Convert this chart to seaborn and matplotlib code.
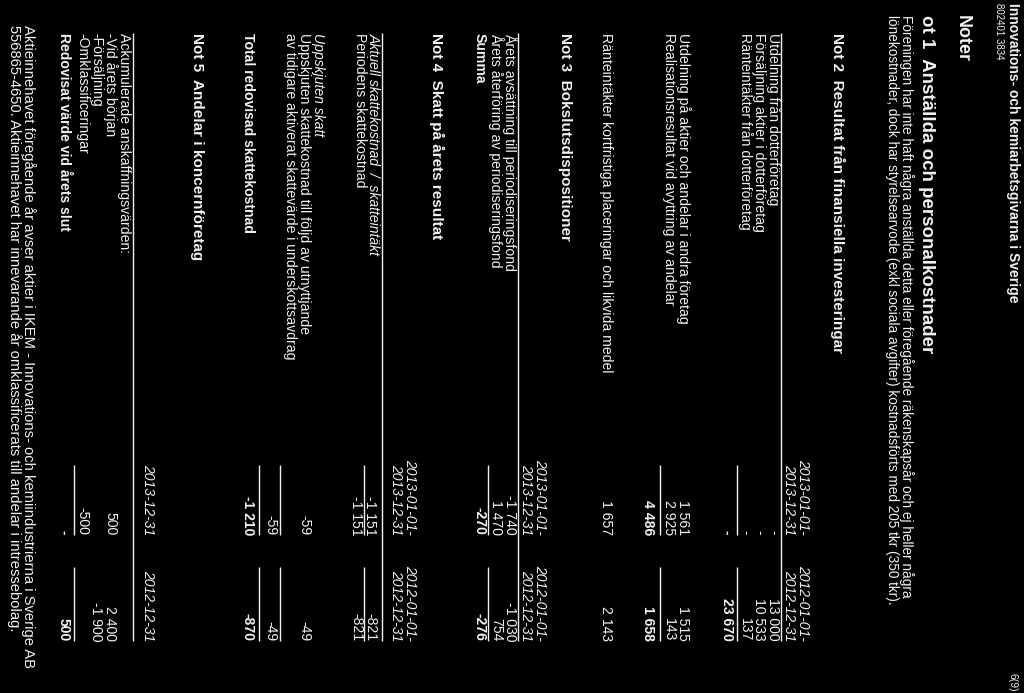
import matplotlib
matplotlib.use("Agg")
import matplotlib.pyplot as plt
import seaborn as sns

# Data (belopp i tkr)
header_title = "Innovations- och kemiarbetsgivarna i Sverige"
header_id = "802401 3834"
page_no = "6(9)"

not1_title = "ot 1  Anställda och personalkostnader"
not1_text = [
    "Föreningen har inte haft några anställda detta eller föregående räkenskapsår och ej heller några",
    "lönekostnader, dock har styrelsearvode (exkl sociala avgifter) kostnadsförts med 205 tkr (350 tkr).",
]

period_2013 = ["2013-01-01-", "2013-12-31"]
period_2012 = ["2012-01-01-", "2012-12-31"]

not2_rows_a = ["Utdelning från dotterföretag", "Försäljning aktier i dotterföretag",
               "Ränteintäkter från dotterföretag"]
not2_a_2013 = [0, 0, 0]
not2_a_2012 = [13000, 10533, 137]
not2_a_sum = [0, 23670]
not2_rows_b = ["Utdelning på aktier och andelar i andra företag",
               "Realisationsresultat vid avyttring av andelar"]
not2_b_2013 = [1561, 2925]
not2_b_2012 = [1515, 143]
not2_b_sum = [4486, 1658]
not2_row_c = "Ränteintäkter kortfristiga placeringar och likvida medel"
not2_c = [1657, 2143]

not3_rows = ["Årets avsättning till periodiseringsfond", "Årets återföring av periodiseringsfond"]
not3_2013 = [-1740, 1470]
not3_2012 = [-1030, 754]
not3_sum = [-270, -276]

not4_current = [-1151, -821]
not4_deferred = [-59, -49]
not4_total = [-1210, -870]

not5_rows = ["Ackumulerade anskaffningsvärden:", "-Vid årets början", "-Försäljning",
             "-Omklassificeringar"]
not5_2013 = [None, 500, None, -500]
not5_2012 = [None, 2400, -1900, None]
not5_sum = [0, 500]
not5_note = [
    "Aktieinnehavet föregående år avser aktier i IKEM - Innovations- och kemiindustrierna i Sverige AB",
    "556865-4650. Aktieinnehavet har innevarande år omklassificerats till andelar i intressebolag.",
]

# Layout
sns.set_theme(style="white")
plt.rcParams['font.family'] = ['Liberation Sans', 'DejaVu Sans']
FG = "#f2f2f2"
BODY = 10.1
HEAD = 11
Y0 = 33          # textens startposition
C13 = 535        # kolumnslut 2013
C12 = 641        # kolumnslut 2012

fig = plt.figure(figsize=(10.24, 6.93), dpi=100, facecolor="black")
ax = fig.add_axes([0, 0, 1, 1])
ax.set_facecolor("black")
ax.set_xlim(0, 1024)
ax.set_ylim(693, 0)
ax.axis("off")


def fmt(v):
    if v is None:
        return ""
    if v == 0:
        return "-"
    s = f"{abs(v):,}".replace(",", " ")
    return ("-" if v < 0 else "") + s


def vtext(x, y, s, size=BODY, weight="normal", style="normal", ha="left"):
    ax.text(x, y, s, rotation=270, rotation_mode="anchor", ha=ha, va="center",
            color=FG, fontsize=size, fontweight=weight, fontstyle=style)


def rule(x, y0=Y0, y1=C12):
    ax.plot([x, x], [y0, y1], color=FG, lw=1.0, solid_capstyle="butt")


def sumline(x):
    rule(x, C13 - 70, C13)
    rule(x, C12 - 74, C12)


def values(x, pair, weight="normal"):
    vtext(x, C13, fmt(pair[0]), weight=weight, ha="right")
    vtext(x, C12, fmt(pair[1]), weight=weight, ha="right")


def periods(x):
    vtext(x, C13, period_2013[0], style="italic", ha="right")
    vtext(x - 14, C13, period_2013[1], style="italic", ha="right")
    vtext(x, C12, period_2012[0], style="italic", ha="right")
    vtext(x - 14, C12, period_2012[1], style="italic", ha="right")


# Sidhuvud
vtext(1013, 3, header_title, size=10, weight="bold")
vtext(999, 3, header_id, size=7)
vtext(1012, 692, page_no, size=7.5, ha="right")
vtext(962, 15, "Noter", size=13, weight="bold")

# Not 1
vtext(926, 15, not1_title, size=13.5, weight="bold")
for i, line in enumerate(not1_text):
    vtext(906 - 14 * i, 15, line, size=9.8)

# Not 2
vtext(838, Y0, "Not 2  Resultat från finansiella investeringar", size=HEAD, weight="bold")
periods(803)
rule(781)
for i, lab in enumerate(not2_rows_a):
    x = 773 - 14 * i
    vtext(x, Y0, lab)
    values(x, [not2_a_2013[i], not2_a_2012[i]])
sumline(737)
values(727, not2_a_sum, weight="bold")
for i, lab in enumerate(not2_rows_b):
    x = 683 - 14 * i
    vtext(x, Y0, lab)
    values(x, [not2_b_2013[i], not2_b_2012[i]])
sumline(660)
values(648, not2_b_sum, weight="bold")
vtext(606, Y0, not2_row_c)
values(606, not2_c)

# Not 3
vtext(565, Y0, "Not 3  Bokslutsdispositioner", size=HEAD, weight="bold")
periods(540)
rule(518)
for i, lab in enumerate(not3_rows):
    x = 510 - 14 * i
    vtext(x, Y0, lab)
    values(x, [not3_2013[i], not3_2012[i]])
sumline(488)
vtext(480, Y0, "Summa", weight="bold")
values(480, not3_sum, weight="bold")

# Not 4
vtext(437, Y0, "Not 4  Skatt på årets resultat", size=HEAD, weight="bold")
periods(410)
rule(382)
vtext(374, Y0, "Aktuell skattekostnad  /  skatteintäkt", style="italic")
vtext(360, Y0, "Periodens skattekostnad")
values(370, not4_current)
sumline(364)
values(356, not4_current)
vtext(318, Y0, "Uppskjuten skatt", style="italic")
vtext(304, Y0, "Uppskjuten skattekostnad till följd av utnyttjande")
vtext(290, Y0, "av tidigare aktiverat skattevärde i underskottsavdrag")
values(304, not4_deferred)
sumline(280)
values(270, not4_deferred)
sumline(259)
vtext(248, Y0, "Total redovisad skattekostnad", weight="bold")
values(248, not4_total, weight="bold")

# Not 5
vtext(197, Y0, "Not 5  Andelar i koncernföretag", size=HEAD, weight="bold")
vtext(148, C13, "2013-12-31", style="italic", ha="right")
vtext(148, C12, "2012-12-31", style="italic", ha="right")
rule(133)
for i, lab in enumerate(not5_rows):
    x = 124 - 14 * i
    vtext(x, Y0, lab)
    values(x, [not5_2013[i], not5_2012[i]])
sumline(74)
vtext(64, Y0, "Redovisat värde vid årets slut", weight="bold")
values(64, not5_sum, weight="bold")
for i, line in enumerate(not5_note):
    vtext(28 - 14 * i, Y0 - 8, line, size=10.6)

fig.savefig("out.png", dpi=100, facecolor="black")
